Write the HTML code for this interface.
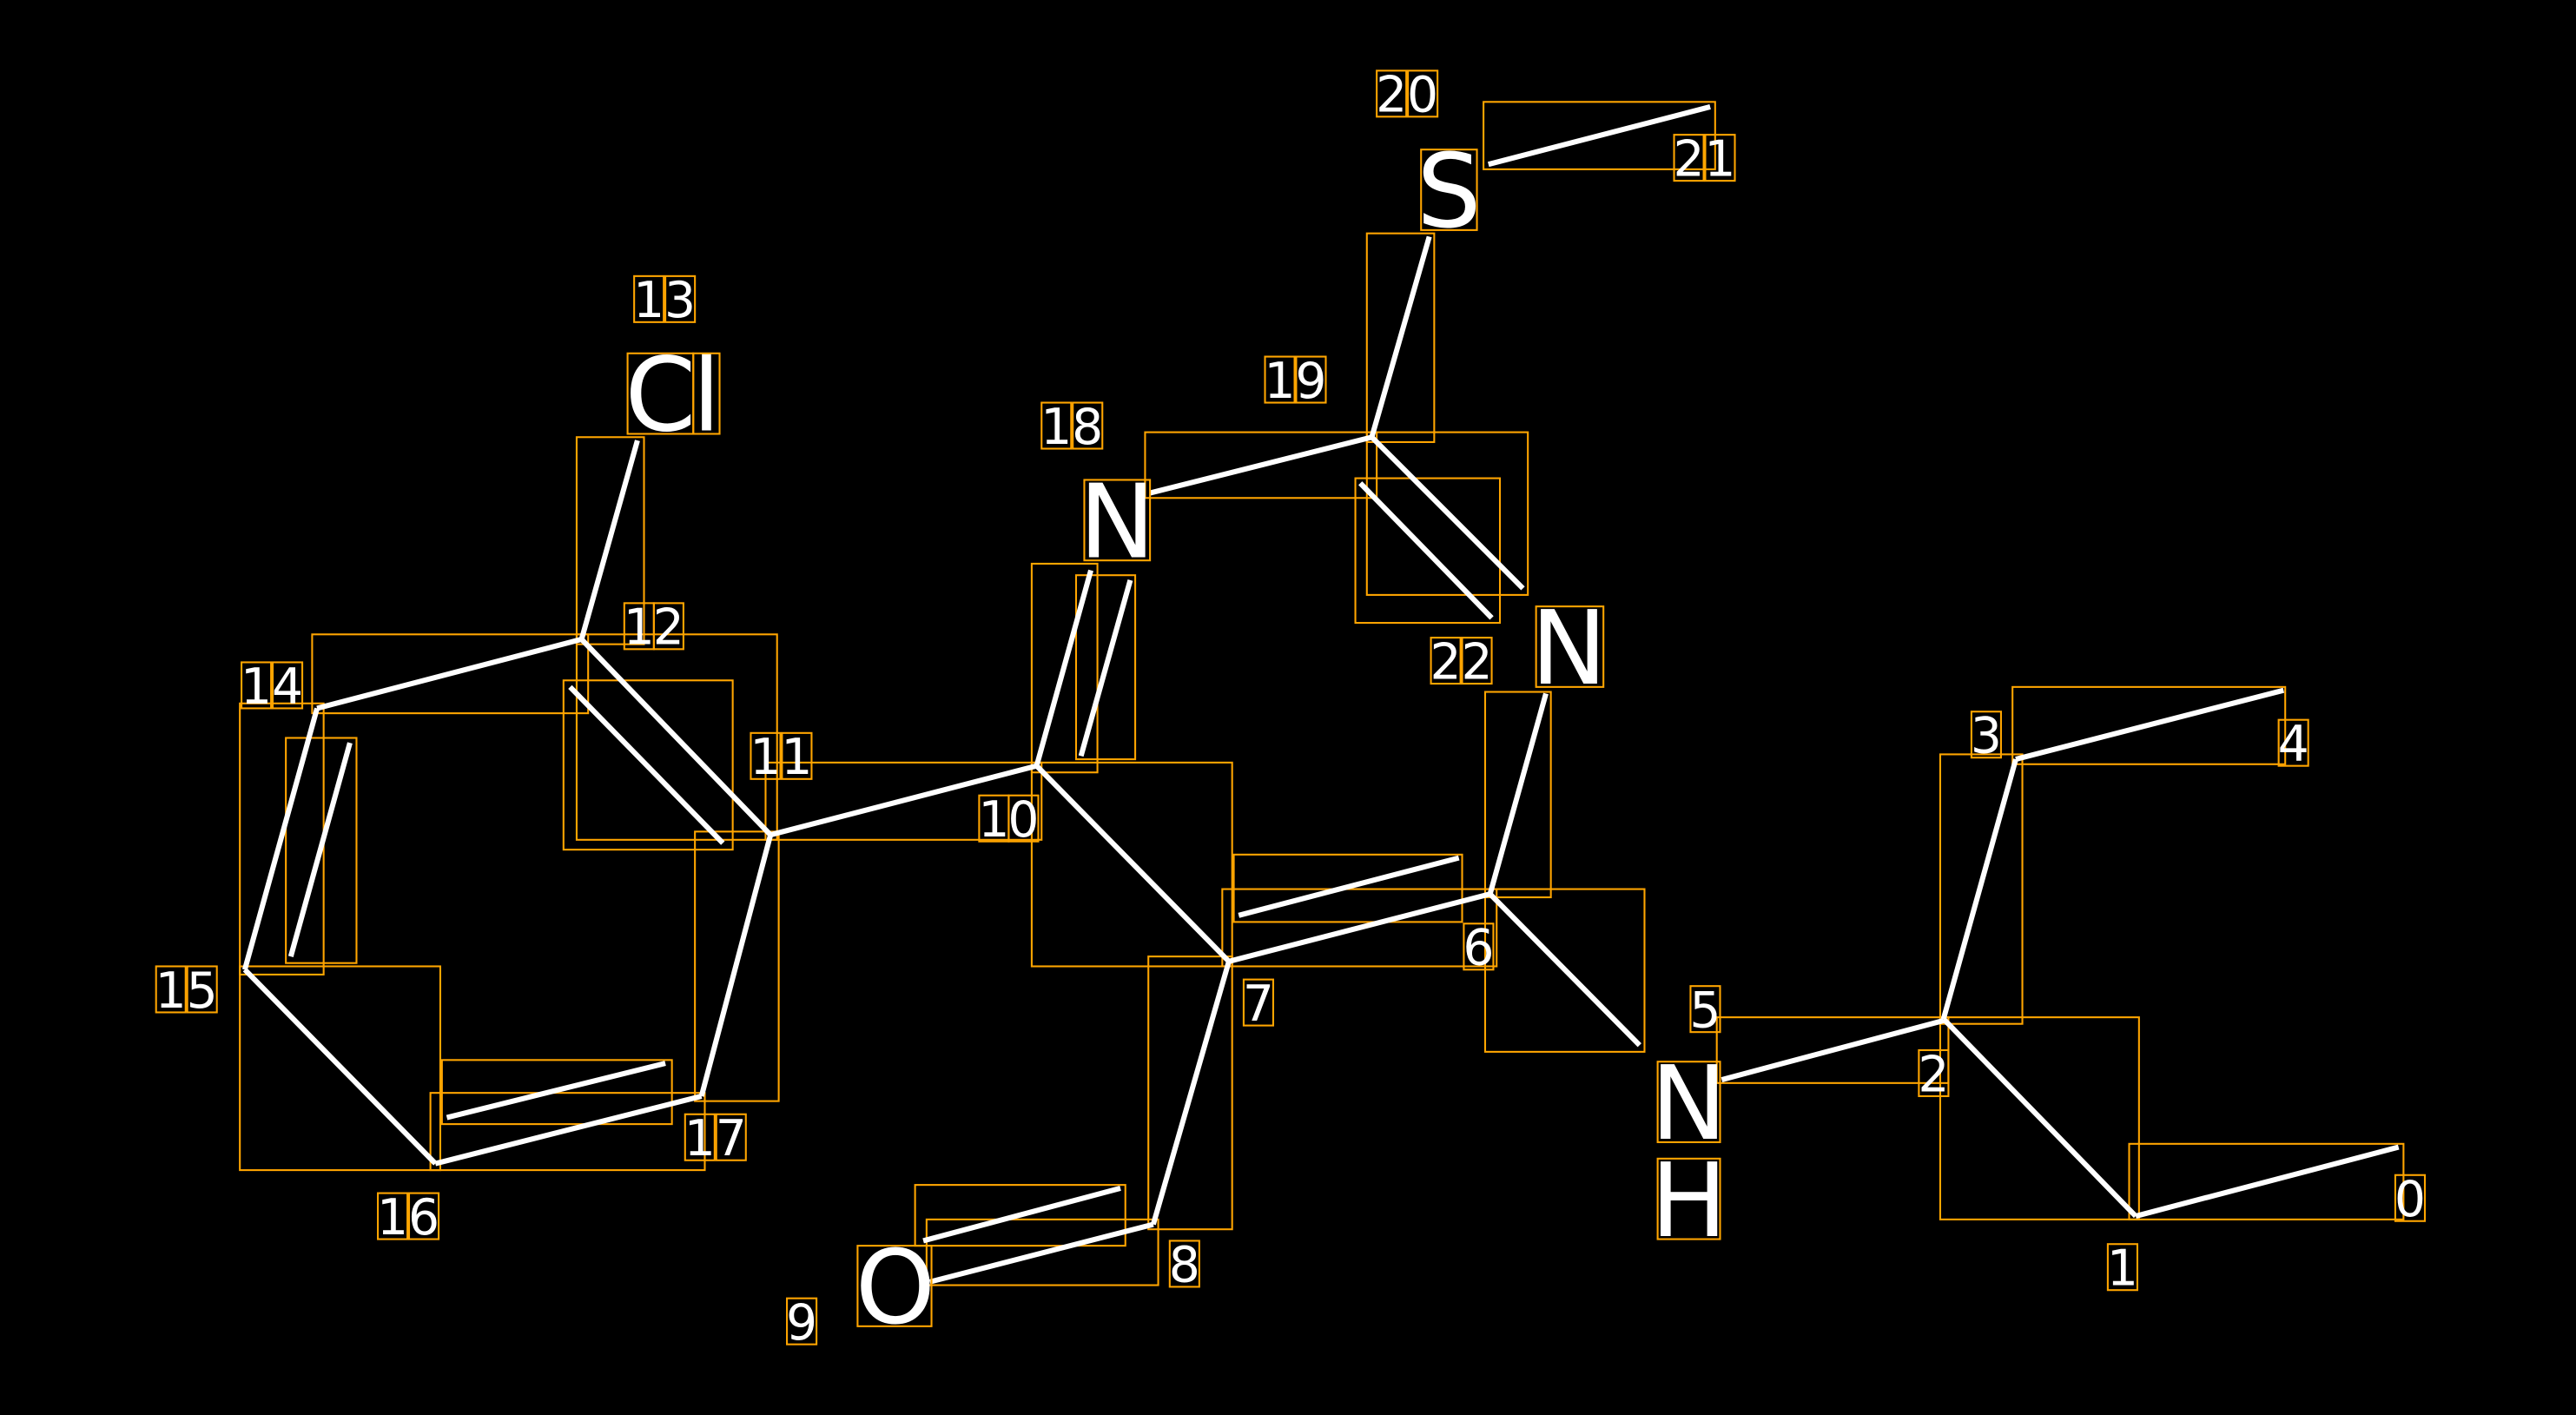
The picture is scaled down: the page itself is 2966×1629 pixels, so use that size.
<!DOCTYPE html>
<html><head><meta charset="utf-8"><style>
html,body{margin:0;padding:0;background:#000;}
svg{display:block;}
text{font-family:"DejaVu Sans","Liberation Sans",sans-serif;fill:#fff;}
</style></head><body>
<svg width="2966" height="1629" viewBox="0 0 1568 861" preserveAspectRatio="none">
<rect width="1568" height="861" fill="#000"/>
<g fill="none" stroke="#FFA500" stroke-width="1.1">
<rect x="1296" y="696" width="167" height="46"/>
<rect x="1181" y="619" width="121" height="123"/>
<rect x="1181" y="459" width="50" height="164"/>
<rect x="1225" y="418" width="166" height="47"/>
<rect x="1045" y="619" width="141" height="40"/>
<rect x="904" y="421" width="40" height="125"/>
<rect x="904" y="541" width="97" height="99"/>
<rect x="744" y="541" width="167" height="47"/>
<rect x="751" y="520" width="139" height="41"/>
<rect x="628" y="464" width="122" height="124"/>
<rect x="699" y="582" width="51" height="166"/>
<rect x="564" y="742" width="141" height="40"/>
<rect x="557" y="721" width="128" height="37"/>
<rect x="628" y="343" width="40" height="127"/>
<rect x="655" y="350" width="36" height="112"/>
<rect x="697" y="263" width="141" height="40"/>
<rect x="832" y="142" width="41" height="127"/>
<rect x="903" y="62" width="141" height="41"/>
<rect x="832" y="263" width="98" height="99"/>
<rect x="825" y="291" width="88" height="88"/>
<rect x="466" y="464" width="168" height="47"/>
<rect x="351" y="386" width="122" height="125"/>
<rect x="343" y="414" width="103" height="103"/>
<rect x="351" y="266" width="41" height="126"/>
<rect x="190" y="386" width="168" height="48"/>
<rect x="146" y="428" width="51" height="165"/>
<rect x="174" y="449" width="43" height="137"/>
<rect x="146" y="588" width="122" height="124"/>
<rect x="262" y="665" width="167" height="47"/>
<rect x="269" y="645" width="140" height="39"/>
<rect x="423" y="506" width="51" height="164"/>
</g>
<g stroke="#fff" stroke-width="3.2" stroke-linecap="butt">
<line x1="1300" y1="740" x2="1460" y2="698"/>
<line x1="1183" y1="620" x2="1300" y2="740"/>
<line x1="1183" y1="620" x2="1227" y2="462"/>
<line x1="1227" y1="462" x2="1390" y2="420"/>
<line x1="1048" y1="657" x2="1183" y2="621"/>
<line x1="907" y1="544" x2="941" y2="422"/>
<line x1="907" y1="544" x2="998" y2="636"/>
<line x1="748" y1="585" x2="907" y2="544"/>
<line x1="754" y1="557" x2="888" y2="522"/>
<line x1="748" y1="585" x2="631" y2="466"/>
<line x1="748" y1="585" x2="702" y2="745"/>
<line x1="702" y1="745" x2="566" y2="780"/>
<line x1="562" y1="755" x2="682" y2="723"/>
<line x1="631" y1="466" x2="664" y2="347"/>
<line x1="658" y1="460" x2="688" y2="353"/>
<line x1="700" y1="300" x2="835" y2="266"/>
<line x1="835" y1="266" x2="870" y2="144"/>
<line x1="906" y1="100" x2="1041" y2="65"/>
<line x1="835" y1="266" x2="927" y2="358"/>
<line x1="828" y1="294" x2="908" y2="376"/>
<line x1="631" y1="466" x2="469" y2="508"/>
<line x1="469" y1="508" x2="354" y2="389"/>
<line x1="347" y1="418" x2="440" y2="513"/>
<line x1="354" y1="389" x2="388" y2="268"/>
<line x1="354" y1="389" x2="193" y2="431"/>
<line x1="193" y1="431" x2="149" y2="590"/>
<line x1="177" y1="582" x2="213" y2="452"/>
<line x1="149" y1="590" x2="265" y2="708"/>
<line x1="265" y1="708" x2="427" y2="667"/>
<line x1="272" y1="680" x2="405" y2="647"/>
<line x1="427" y1="667" x2="469" y2="508"/>
</g>
<!-- digit labels -->
<g font-size="30" text-anchor="middle">
<text x="1467" y="740">0</text><text x="1292" y="782">1</text><text x="1177" y="664">2</text>
<text x="1209" y="458">3</text><text x="1396" y="463">4</text><text x="1038" y="625">5</text>
<text x="900" y="587">6</text><text x="766" y="621">7</text><text x="721" y="780">8</text>
<text x="488" y="815">9</text>
<text x="605" y="509">1</text><text x="623" y="509">0</text>
<text x="466" y="471">1</text><text x="485" y="471">1</text>
<text x="389" y="392">1</text><text x="407" y="392">2</text>
<text x="395" y="193">1</text><text x="414" y="193">3</text>
<text x="156" y="428">1</text><text x="175" y="428">4</text>
<text x="104" y="613">1</text><text x="123" y="613">5</text>
<text x="239" y="751">1</text><text x="258" y="751">6</text>
<text x="426" y="703">1</text><text x="445" y="703">7</text>
<text x="643" y="270">1</text><text x="662" y="270">8</text>
<text x="779" y="242">1</text><text x="798" y="242">9</text>
<text x="847" y="68">2</text><text x="866" y="68">0</text>
<text x="1028" y="107">2</text><text x="1047" y="107">1</text>
<text x="880" y="413">2</text><text x="899" y="413">2</text>
</g>
<g font-size="62" text-anchor="middle">
<text x="882" y="138">S</text>
<text x="402" y="262">C</text><text x="430" y="262">l</text>
<text x="680" y="339">N</text>
<text x="955" y="416">N</text>
<text x="1028" y="693">N</text><text x="1028" y="752">H</text>
<text x="545" y="805">O</text>
</g>
<g fill="none" stroke="#FFA500" stroke-width="1.1">
<rect x="1458" y="715" width="18" height="28"/><rect x="1283" y="757" width="18" height="28"/>
<rect x="1168" y="639" width="18" height="28"/><rect x="1200" y="433" width="18" height="28"/>
<rect x="1387" y="438" width="18" height="28"/><rect x="1029" y="600" width="18" height="28"/>
<rect x="891" y="562" width="18" height="28"/><rect x="757" y="596" width="18" height="28"/>
<rect x="712" y="755" width="18" height="28"/><rect x="479" y="790" width="18" height="28"/>
<rect x="596" y="484" width="18" height="28"/><rect x="614" y="484" width="18" height="28"/>
<rect x="457" y="446" width="18" height="28"/><rect x="476" y="446" width="18" height="28"/>
<rect x="380" y="367" width="18" height="28"/><rect x="398" y="367" width="18" height="28"/>
<rect x="386" y="168" width="18" height="28"/><rect x="405" y="168" width="18" height="28"/>
<rect x="147" y="403" width="18" height="28"/><rect x="166" y="403" width="18" height="28"/>
<rect x="95" y="588" width="18" height="28"/><rect x="114" y="588" width="18" height="28"/>
<rect x="230" y="726" width="18" height="28"/><rect x="249" y="726" width="18" height="28"/>
<rect x="417" y="678" width="18" height="28"/><rect x="436" y="678" width="18" height="28"/>
<rect x="634" y="245" width="18" height="28"/><rect x="653" y="245" width="18" height="28"/>
<rect x="770" y="217" width="18" height="28"/><rect x="789" y="217" width="18" height="28"/>
<rect x="838" y="43" width="18" height="28"/><rect x="857" y="43" width="18" height="28"/>
<rect x="1019" y="82" width="18" height="28"/><rect x="1038" y="82" width="18" height="28"/>
<rect x="871" y="388" width="18" height="28"/><rect x="890" y="388" width="18" height="28"/>
<rect x="865" y="91" width="34" height="49"/>
<rect x="382" y="215" width="40" height="49"/><rect x="422" y="215" width="16" height="49"/>
<rect x="660" y="292" width="40" height="49"/>
<rect x="935" y="369" width="41" height="49"/>
<rect x="1009" y="646" width="38" height="49"/><rect x="1009" y="705" width="38" height="49"/>
<rect x="522" y="758" width="45" height="49"/>
</g>
</svg>
</body></html>
